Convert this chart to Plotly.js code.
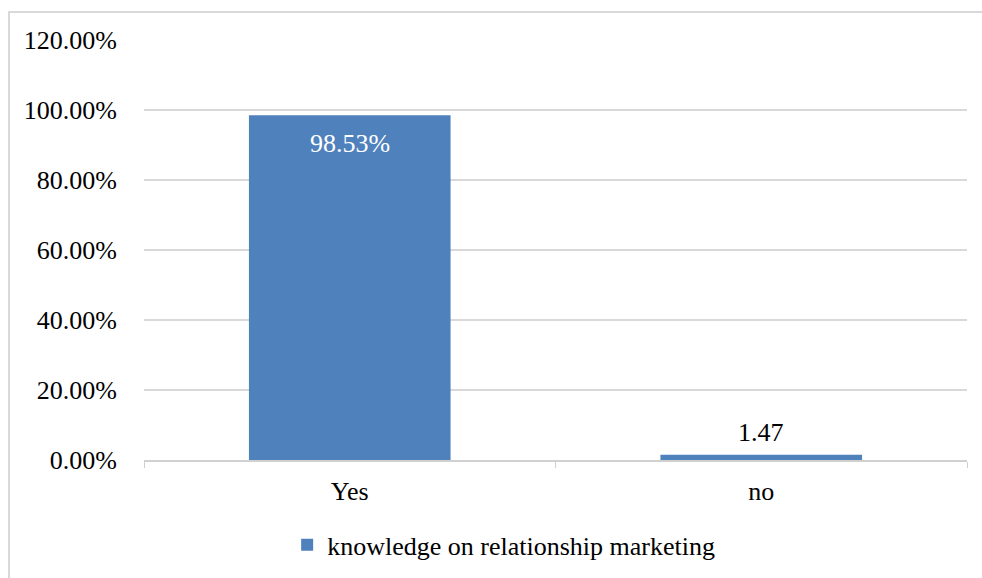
<!DOCTYPE html>
<html>
<head>
<meta charset="utf-8">
<script src="https://cdn.plot.ly/plotly-3.0.1.min.js"></script>
<style>
  html, body { margin: 0; padding: 0; background: #ffffff; overflow: hidden; }
  #frame { position: absolute; left: 8px; top: 11px; width: 1000px; height: 580px;
           border: 2px solid #d9d9d9; box-sizing: border-box; background: #fff; }
  #chart { width: 996px; height: 576px; }
</style>
</head>
<body>
<div id="frame"><div id="chart"></div></div>
<script>
// Data
const categories = ["Yes", "no"];
const values = [0.9853, 0.0147];
const valueLabels = ["98.53%", "1.47"];
const seriesName = "knowledge on relationship marketing";
const yTickVals = [0, 0.2, 0.4, 0.6, 0.8, 1.0, 1.2];

const font = '"Liberation Serif", "Times New Roman", Times, serif';
const fs = 26;
const barColor = "#4f81bd";

const trace = {
  type: "bar",
  x: categories,
  y: values,
  name: seriesName,
  marker: { color: barColor },
  showlegend: true,
  hoverinfo: "x+y"
};

// data labels: first inside the bar top (white), second above the bar (black)
const annotations = categories.map((c, i) => {
  const inside = i === 0;
  return {
    x: c, y: values[i], xref: "x", yref: "y",
    text: valueLabels[i], showarrow: false,
    yanchor: inside ? "top" : "bottom",
    yshift: inside ? -12 : 6,
    font: { family: font, size: fs, color: inside ? "#ffffff" : "#000000" }
  };
});

const layout = {
  width: 996, height: 576,
  margin: { l: 134, r: 39, t: 27, b: 129 },
  paper_bgcolor: "#ffffff",
  plot_bgcolor: "#ffffff",
  font: { family: font, size: fs, color: "#000000" },
  bargap: 0.51,
  xaxis: {
    type: "category",
    showline: true, linecolor: "#d0d0d0", linewidth: 1.5,
    ticks: "outside", tickson: "boundaries", ticklen: 6, tickcolor: "#d0d0d0",
    showgrid: false, zeroline: false,
    ticklabelstandoff: 7,
    tickfont: { family: font, size: fs, color: "#000000" },
    fixedrange: true
  },
  yaxis: {
    range: [0, 1.2],
    tickvals: yTickVals,
    tickformat: ".2%",
    showgrid: true, gridcolor: "#d9d9d9", gridwidth: 2,
    zeroline: false, showline: false, ticks: "",
    ticklabelstandoff: 26,
    tickfont: { family: font, size: fs, color: "#000000" },
    fixedrange: true
  },
  showlegend: true,
  legend: {
    orientation: "h", x: 0.437, xanchor: "center", y: -0.202, yanchor: "middle",
    font: { family: font, size: fs, color: "#000000" },
    bgcolor: "rgba(0,0,0,0)"
  },
  annotations: annotations
};

Plotly.newPlot("chart", [trace], layout, { displayModeBar: false, staticPlot: true });
</script>
</body>
</html>
